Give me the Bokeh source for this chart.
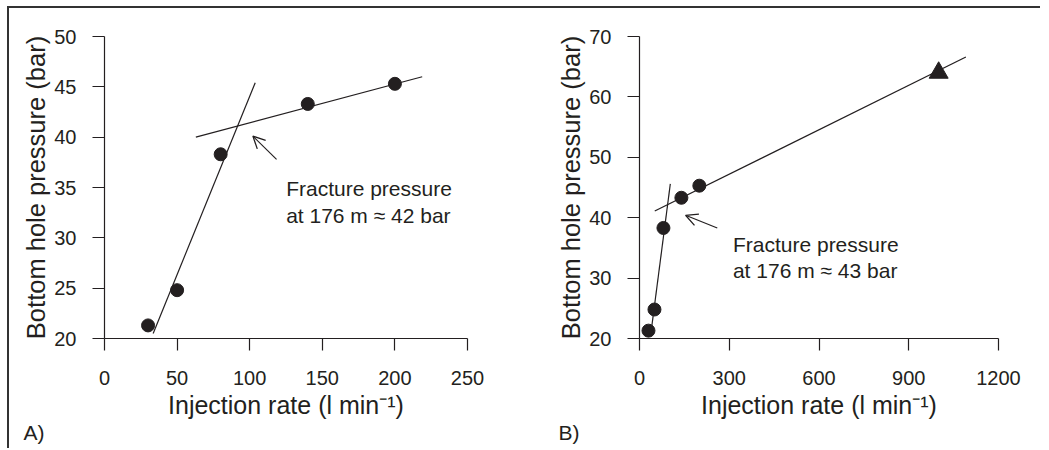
from bokeh.plotting import figure
from bokeh.models import Range1d, Label, Arrow, OpenHead, FixedTicker, Title
from bokeh.layouts import row
from bokeh.embed import file_html
from bokeh.resources import INLINE

# ---------------- data ----------------
# Panel A
rate_a = [30, 50, 80, 140, 200]
bhp_a = [21.3, 24.8, 38.3, 43.3, 45.3]
steep_a_x = [33.5, 103.8]
steep_a_y = [20.5, 45.4]
shallow_a_x = [62.9, 218.8]
shallow_a_y = [40.0, 46.0]
xticks_a = [0, 50, 100, 150, 200, 250]
yticks_a = [20, 25, 30, 35, 40, 45, 50]

# Panel B
rate_b = [30, 50, 80, 140, 200]
bhp_b = [21.3, 24.8, 38.3, 43.3, 45.3]
tri_rate_b = [1000]
tri_bhp_b = [64.0]
steep_b_x = [40, 103]
steep_b_y = [21.6, 45.6]
shallow_b_x = [51, 1091]
shallow_b_y = [41.1, 66.6]
xticks_b = [0, 300, 600, 900, 1200]
yticks_b = [20, 30, 40, 50, 60, 70]

INK = "#231f20"
FONT = "Liberation Sans"
XLABEL = "Injection rate (l min\u207b\u00b9)"
YLABEL = "Bottom hole pressure (bar)"


def make_panel(fw, fh, left, right, top, bottom, xr, yr, xt, yt, tag):
    p = figure(frame_width=fw, frame_height=fh, x_range=Range1d(*xr), y_range=Range1d(*yr),
               output_backend="svg", toolbar_location=None,
               min_border_left=left, min_border_right=right,
               min_border_top=top, min_border_bottom=bottom)
    p.outline_line_color = None
    p.grid.visible = False
    p.background_fill_color = "white"
    p.border_fill_color = "white"
    p.xaxis.ticker = FixedTicker(ticks=xt)
    p.yaxis.ticker = FixedTicker(ticks=yt)
    p.xaxis.axis_label = XLABEL
    p.yaxis.axis_label = YLABEL
    for ax in (p.xaxis[0], p.yaxis[0]):
        ax.major_tick_in = 0
        ax.major_tick_out = 12
        ax.minor_tick_line_color = None
        ax.axis_line_color = INK
        ax.axis_line_width = 1.2
        ax.major_tick_line_color = INK
        ax.major_tick_line_width = 1.2
        ax.major_label_text_font = FONT
        ax.major_label_text_font_size = "20px"
        ax.major_label_text_color = INK
        ax.axis_label_text_font = FONT
        ax.axis_label_text_font_style = "normal"
        ax.axis_label_text_color = INK
    p.xaxis.axis_label_text_font_size = "25px"
    p.yaxis.axis_label_text_font_size = "25.5px"
    p.xaxis.major_label_standoff = 20
    p.yaxis.major_label_standoff = 16
    p.xaxis.axis_label_standoff = 3
    p.yaxis.axis_label_standoff = 1
    # panel tag ("A)" / "B)") below the x axis, aligned far left
    p.add_layout(Title(text=tag, align="left", offset=-81, standoff=-5,
                       text_font=FONT, text_font_size="21px", text_font_style="normal",
                       text_color=INK), "below")
    return p


def add_text(p, x, y, lines):
    for (xx, yy, t) in zip(x, y, lines):
        p.add_layout(Label(x=xx, y=yy, text=t, text_font=FONT, text_font_size="21px",
                           text_color=INK, text_baseline="alphabetic", text_align="left"))


# ---------------- panel A ----------------
pa = make_panel(363, 302, 95, 52, 28, 110, (0, 250), (20, 50), xticks_a, yticks_a, "A)")
pa.line(steep_a_x, steep_a_y, line_color=INK, line_width=1.2)
pa.line(shallow_a_x, shallow_a_y, line_color=INK, line_width=1.2)
pa.scatter(rate_a, bhp_a, marker="circle", size=13, fill_color=INK, line_color=INK)
pa.add_layout(Arrow(end=OpenHead(size=12, line_width=1.3, line_color=INK),
                    x_start=118.5, y_start=37.8, x_end=102.2, y_end=40.1,
                    line_width=1.2, line_color=INK))
add_text(pa, [125.1, 125.1], [34.87, 32.22],
         ["Fracture pressure", "at 176 m \u2248 42 bar"])

# ---------------- panel B ----------------
pb = make_panel(359, 302, 120, 42, 23, 115, (0, 1200), (20, 70), xticks_b, yticks_b, "B)")
pb.line(steep_b_x, steep_b_y, line_color=INK, line_width=1.2)
pb.line(shallow_b_x, shallow_b_y, line_color=INK, line_width=1.2)
pb.scatter(rate_b, bhp_b, marker="circle", size=13, fill_color=INK, line_color=INK)
pb.scatter(tri_rate_b, tri_bhp_b, marker="triangle", size=19, fill_color=INK, line_color=INK)
pb.add_layout(Arrow(end=OpenHead(size=12, line_width=1.3, line_color=INK),
                    x_start=260, y_start=38.3, x_end=154, y_end=40.4,
                    line_width=1.2, line_color=INK))
add_text(pb, [312.3, 312.3], [35.55, 31.3],
         ["Fracture pressure", "at 176 m \u2248 43 bar"])

layout = row(pa, pb, styles={"border-top": "2px solid #333", "border-left": "2px solid #333",
                             "margin-left": "7px", "margin-top": "6px"})

open("out.html", "w").write(file_html(layout, INLINE))
